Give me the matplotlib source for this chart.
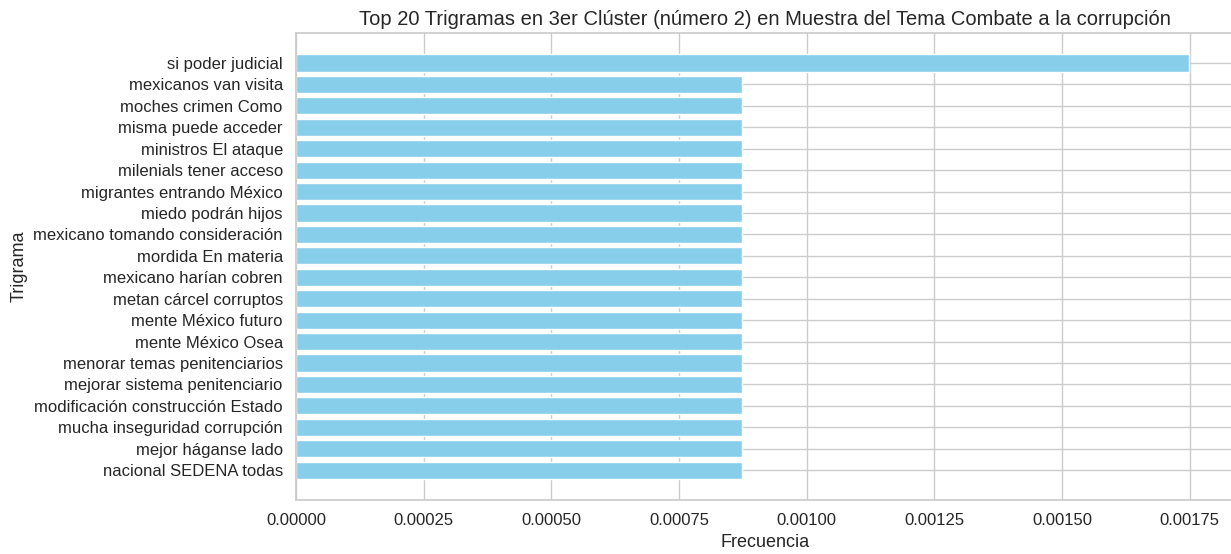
import matplotlib
matplotlib.use("Agg")
import matplotlib.pyplot as plt
import seaborn as sns

# trigramas y su frecuencia (de arriba hacia abajo)
trigramas = [
    "si poder judicial",
    "mexicanos van visita",
    "moches crimen Como",
    "misma puede acceder",
    "ministros El ataque",
    "milenials tener acceso",
    "migrantes entrando México",
    "miedo podrán hijos",
    "mexicano tomando consideración",
    "mordida En materia",
    "mexicano harían cobren",
    "metan cárcel corruptos",
    "mente México futuro",
    "mente México Osea",
    "menorar temas penitenciarios",
    "mejorar sistema penitenciario",
    "modificación construcción Estado",
    "mucha inseguridad corrupción",
    "mejor háganse lado",
    "nacional SEDENA todas",
]
frecuencias = [0.001748] + [0.000874] * 19

sns.set_theme(style="whitegrid")
plt.rcParams["font.family"] = ["Liberation Sans", "DejaVu Sans"]

fig, ax = plt.subplots(figsize=(12.31, 5.54), dpi=100)
fig.subplots_adjust(left=0.2405, right=1.002, top=0.940, bottom=0.0975)

ax.barh(trigramas, frecuencias, color="skyblue")
ax.invert_yaxis()
ax.set_xlabel("Frecuencia", fontsize=13)
ax.set_ylabel("Trigrama", fontsize=13)
ax.set_title("Top 20 Trigramas en 3er Clúster (número 2) en Muestra del Tema Combate a la corrupción", fontsize=14.5)
ax.tick_params(labelsize=12)
ax.set_xticks([0, 0.00025, 0.0005, 0.00075, 0.001, 0.00125, 0.0015, 0.00175])
ax.set_xticklabels(["%.5f" % t for t in ax.get_xticks()])

fig.savefig("out.png", dpi=100)
